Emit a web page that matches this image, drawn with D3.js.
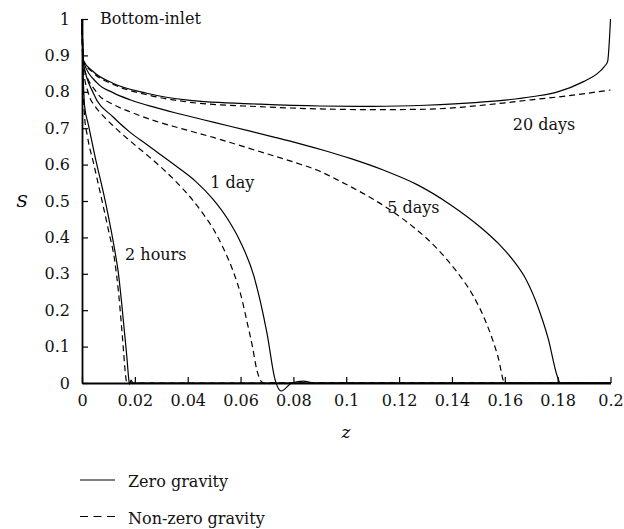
<!DOCTYPE html>
<html>
<head>
<meta charset="utf-8">
<script src="https://cdn.jsdelivr.net/npm/d3@7"></script>
<style>
  html, body { margin: 0; padding: 0; background: #fff; }
  svg { display: block; font-family: "DejaVu Serif", serif; }
</style>
</head>
<body>
<svg id="chart" width="624" height="529"></svg>
<script>
// ---- data (z, S) ----
const xTickValues = [0, 0.02, 0.04, 0.06, 0.08, 0.1, 0.12, 0.14, 0.16, 0.18, 0.2];
const xTickLabels = ["0", "0.02", "0.04", "0.06", "0.08", "0.1", "0.12", "0.14", "0.16", "0.18", "0.2"];
const yTickValues = [0, 0.1, 0.2, 0.3, 0.4, 0.5, 0.6, 0.7, 0.8, 0.9, 1];
const yTickLabels = ["0", "0.1", "0.2", "0.3", "0.4", "0.5", "0.6", "0.7", "0.8", "0.9", "1"];

const zero2h = [[0,1],[0.0004,0.86],[0.001,0.76],[0.0024,0.71],[0.005,0.62],[0.0087,0.503],[0.011,0.42],[0.0125,0.36],[0.0138,0.30],[0.015,0.22],[0.016,0.145],[0.017,0.07],[0.0177,0.01],[0.018,-0.003],[0.0186,0.008],[0.0192,0],[0.2,0]];
const nonzero2h = [[0,1],[0.0003,0.85],[0.001,0.73],[0.002,0.68],[0.0045,0.6],[0.0075,0.503],[0.01,0.42],[0.0125,0.33],[0.0138,0.25],[0.0148,0.17],[0.0157,0.09],[0.0165,0.02],[0.017,0],[0.2,0]];

const zero1d = [[0,1],[0.0005,0.88],[0.0043,0.796],[0.0119,0.73],[0.018,0.69],[0.0245,0.655],[0.0371,0.588],[0.043,0.554],[0.0497,0.504],[0.055,0.452],[0.06,0.387],[0.065,0.295],[0.07,0.137],[0.0731,0.008],[0.0754,-0.022],[0.0794,0],[0.0838,0.005],[0.088,0],[0.2,0]];
const nonzero1d = [[0,1],[0.0004,0.87],[0.0024,0.796],[0.005,0.76],[0.0081,0.733],[0.012,0.705],[0.0182,0.665],[0.0245,0.627],[0.0308,0.587],[0.036,0.55],[0.0416,0.505],[0.046,0.463],[0.0497,0.423],[0.0535,0.37],[0.0573,0.305],[0.06,0.245],[0.0624,0.17],[0.0645,0.1],[0.0662,0.035],[0.0675,0.008],[0.0687,0],[0.07,-0.003],[0.072,0],[0.2,0]];

const zero5d = [[0,1],[0.0005,0.885],[0.0056,0.825],[0.0119,0.797],[0.0182,0.778],[0.0276,0.757],[0.0371,0.739],[0.05,0.716],[0.0636,0.692],[0.073,0.675],[0.0826,0.657],[0.092,0.638],[0.1015,0.617],[0.114,0.585],[0.1268,0.545],[0.1394,0.49],[0.1508,0.428],[0.158,0.38],[0.1634,0.335],[0.168,0.285],[0.173,0.2],[0.1765,0.12],[0.1798,0.02],[0.181,0],[0.2,0]];
const nonzero5d = [[0,1],[0.0004,0.875],[0.0056,0.798],[0.0119,0.765],[0.0182,0.745],[0.0276,0.72],[0.0371,0.70],[0.05,0.674],[0.0636,0.644],[0.073,0.623],[0.0826,0.601],[0.0889,0.585],[0.098,0.553],[0.1078,0.515],[0.1167,0.475],[0.1255,0.428],[0.134,0.372],[0.1419,0.305],[0.148,0.24],[0.153,0.165],[0.1575,0.07],[0.16,0],[0.2,0]];

const zero20d = [[0,1],[0.0005,0.887],[0.0043,0.855],[0.0119,0.823],[0.0245,0.796],[0.04,0.777],[0.0674,0.766],[0.09,0.761],[0.11,0.760],[0.13,0.763],[0.15,0.771],[0.1708,0.787],[0.18,0.80],[0.1898,0.828],[0.195,0.85],[0.1975,0.868],[0.1989,0.883],[0.2,1.0]];
const nonzero20d = [[0,1],[0.0005,0.885],[0.0043,0.852],[0.0119,0.82],[0.0245,0.792],[0.04,0.772],[0.0674,0.759],[0.09,0.753],[0.11,0.751],[0.13,0.752],[0.15,0.762],[0.158,0.768],[0.17,0.778],[0.185,0.79],[0.2,0.805]];

const curveLabels = [
  { text: "Bottom-inlet", z: 0.0068, s: 0.987 },
  { text: "20 days", z: 0.163, s: 0.695 },
  { text: "5 days", z: 0.1155, s: 0.467 },
  { text: "1 day", z: 0.0485, s: 0.536 },
  { text: "2 hours", z: 0.0163, s: 0.338 }
];
const legendItems = ["Zero gravity", "Non-zero gravity"];

// ---- layout ----
const svg = d3.select("#chart");
const x = d3.scaleLinear().domain([0, 0.2]).range([82, 610.5]);
const y = d3.scaleLinear().domain([0, 1]).range([383, 19]);

const line = d3.line()
  .x(d => x(d[0]))
  .y(d => y(d[1]))
  .curve(d3.curveMonotoneX);

const solids = [zero2h, zero1d, zero5d, zero20d];
const dashes = [nonzero2h, nonzero1d, nonzero5d, nonzero20d];

svg.append("g").selectAll("path").data(dashes).join("path")
  .attr("d", line)
  .attr("fill", "none")
  .attr("stroke", "#000")
  .attr("stroke-width", 1.2)
  .attr("stroke-dasharray", "6,4");

svg.append("g").selectAll("path").data(solids).join("path")
  .attr("d", line)
  .attr("fill", "none")
  .attr("stroke", "#000")
  .attr("stroke-width", 1.2);

// axes
const xAxis = d3.axisBottom(x)
  .tickValues(xTickValues)
  .tickFormat((d, i) => xTickLabels[i])
  .tickSizeInner(-6).tickSizeOuter(0).tickPadding(12);
const yAxis = d3.axisLeft(y)
  .tickValues(yTickValues)
  .tickFormat((d, i) => yTickLabels[i])
  .tickSizeInner(-6).tickSizeOuter(0).tickPadding(12);

const gx = svg.append("g").attr("transform", "translate(0,383)").call(xAxis);
const gy = svg.append("g").attr("transform", "translate(82,0)").call(yAxis);
[gx, gy].forEach(g => {
  g.selectAll("text").attr("font-family", "DejaVu Serif").attr("font-size", 16).attr("fill", "#111");
  g.select(".domain").attr("stroke", "#000").attr("stroke-width", 1.8);
  g.selectAll(".tick line").attr("stroke", "#000").attr("stroke-width", 1.2);
});

// axis titles
svg.append("text").attr("x", 346).attr("y", 438)
  .attr("text-anchor", "middle").attr("font-style", "italic").attr("font-size", 17).text("z");
svg.append("text").attr("x", 22).attr("y", 207)
  .attr("text-anchor", "middle").attr("font-style", "italic").attr("font-size", 17).text("S");

// curve labels
svg.append("g").selectAll("text").data(curveLabels).join("text")
  .attr("x", d => x(d.z)).attr("y", d => y(d.s))
  .attr("font-size", 16).attr("fill", "#111")
  .text(d => d.text);

// legend
const lg = svg.append("g");
legendItems.forEach((t, i) => {
  const yy = 480 + i * 36.5;
  lg.append("line").attr("x1", 80).attr("x2", 115).attr("y1", yy).attr("y2", yy)
    .attr("stroke", "#000").attr("stroke-width", 1.2)
    .attr("stroke-dasharray", i === 1 ? "8,5.5" : null);
  lg.append("text").attr("x", 128).attr("y", yy + 7).attr("font-size", 16).attr("fill", "#111").text(t);
});
</script>
</body>
</html>
